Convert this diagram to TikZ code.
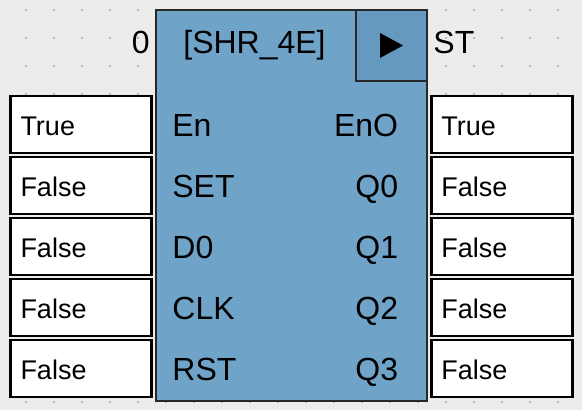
\documentclass[tikz,border=0pt]{standalone}
\usepackage{fontspec}
\setmainfont{Liberation Sans}
\usetikzlibrary{positioning}

\definecolor{canvas}{RGB}{236,236,234}
\definecolor{blockblue}{RGB}{111,163,200}
\definecolor{runblue}{RGB}{102,153,191}
\definecolor{blockedge}{RGB}{40,40,40}

\begin{document}
\begin{tikzpicture}[x=0.5pt, y=-0.5pt,
    valbox/.style={draw=black, fill=white, line width=1.25pt, inner sep=0pt, inner xsep=5pt,
        outer sep=0pt, minimum height=28.5pt, text width=60.5pt, align=left,
        text height=11pt, text depth=0pt, font=\fontsize{13.5}{16}\selectfont},
    pinlabel/.style={inner sep=0pt, text height=12pt, text depth=0pt, font=\fontsize{16}{19}\selectfont}]

\fill[canvas] (0,0) rectangle (582,410);
\useasboundingbox (0,0) rectangle (582,410);

% grid
\foreach \gx in {26,54,...,558}
    \foreach \gy in {10,38,...,402}
        \fill[gray] (\gx,\gy) circle[radius=0.45pt];

% function block
\node[draw=blockedge, fill=blockblue, line width=1pt, inner sep=0pt, outer sep=0pt,
    minimum width=135.5pt, minimum height=195.5pt] (blk) at (291.5,205.5) {};
\node[draw=blockedge, fill=runblue, line width=1pt, inner sep=0pt, outer sep=0pt,
    minimum size=35.5pt, anchor=north east] (run) at (blk.north east) {};
\fill ([shift={(-11.5,-12.5)}]run.center) -- ([shift={(11.5,0)}]run.center)
    -- ([shift={(-11.5,12.5)}]run.center) -- cycle;

\node[pinlabel, anchor=east] (zero) at (150,42) {0};
\node[pinlabel] (title) at (254.5,42) {[SHR\_4E]};
\node[pinlabel, anchor=west] (st) at (433,42) {ST};

% inputs
\begin{scope}[every node/.style={pinlabel, anchor=west}]
    \node (en)  at (172,124.5) {En};
    \node (set) at (172,185.5) {SET};
    \node (d0)  at (172,246.5) {D0};
    \node (clk) at (172,307.5) {CLK};
    \node (rst) at (172,368.5) {RST};
\end{scope}

% outputs
\begin{scope}[every node/.style={pinlabel, anchor=east}]
    \node (eno) at (398.5,124.5) {EnO};
    \node (q0)  at (398.5,185.5) {Q0};
    \node (q1)  at (398.5,246.5) {Q1};
    \node (q2)  at (398.5,307.5) {Q2};
    \node (q3)  at (398.5,368.5) {Q3};
\end{scope}

% input values
\begin{scope}[every node/.style={valbox}]
    \node (en-val)  at (81,124.5) {True};
    \node (set-val) at (81,185.5) {False};
    \node (d0-val)  at (81,246.5) {False};
    \node (clk-val) at (81,307.5) {False};
    \node (rst-val) at (81,368.5) {False};
\end{scope}

% output values
\begin{scope}[every node/.style={valbox}]
    \node (eno-val) at (501.75,124.5) {True};
    \node (q0-val)  at (501.75,185.5) {False};
    \node (q1-val)  at (501.75,246.5) {False};
    \node (q2-val)  at (501.75,307.5) {False};
    \node (q3-val)  at (501.75,368.5) {False};
\end{scope}

\end{tikzpicture}
\end{document}
